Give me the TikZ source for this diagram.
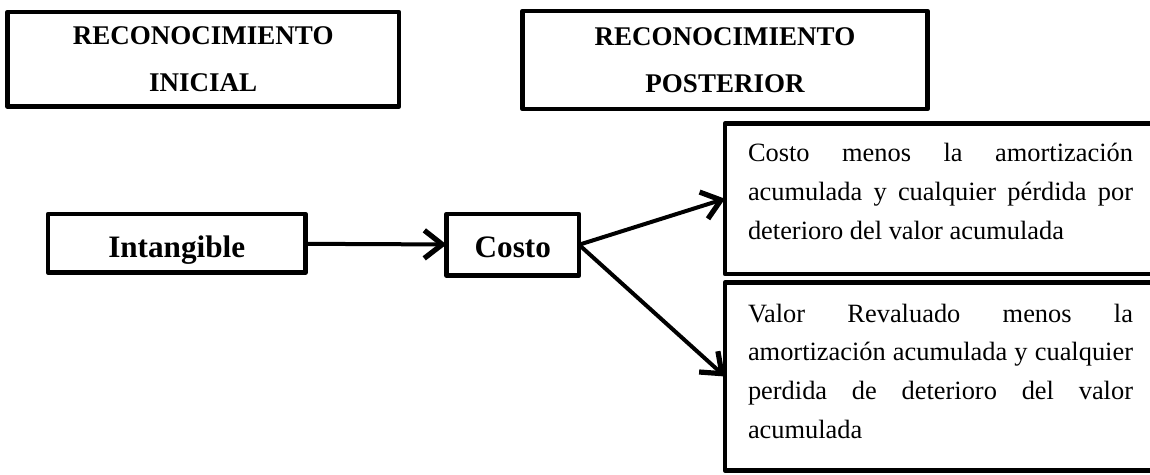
\documentclass[tikz,border=0pt]{standalone}
\usepackage{fontspec}
\setmainfont{Liberation Serif}
\usetikzlibrary{arrows.meta}

\begin{document}
\begin{tikzpicture}[x=0.5pt,y=-0.5pt,
    box/.style={draw,line width=2.2pt,line join=round,outer sep=0pt,inner sep=0pt},
    head/.style={box,align=center,font=\fontsize{13.5}{23.3}\selectfont\bfseries},
    big/.style={box,text depth=0pt,font=\fontsize{15.6}{18}\selectfont\bfseries},
    txt/.style={box,anchor=north west,text width=192.5pt,inner xsep=11.5pt,align=justify,
      font=\fontsize{13.2}{19.4}\selectfont,
      execute at begin node={\tolerance=10000\relax\hyphenpenalty=10000\relax}}]
  \useasboundingbox (0,0) rectangle (1150,475);
  \clip (0,0) rectangle (1150,475);
  \draw
    (203.25,59.25) node[head,minimum width=195.75pt,minimum height=47.25pt] (ini)
      {RECONOCIMIENTO\\INICIAL}
    (725,60) node[head,minimum width=202.5pt,minimum height=49pt] (post)
      {RECONOCIMIENTO\\POSTERIOR}
    (176.75,243.25) node[big,minimum width=128.75pt,minimum height=29.25pt,text height=14.4pt] (intang)
      {Intangible}
    (512.75,244.75) node[big,minimum width=66.25pt,minimum height=30.75pt,text height=13pt] (costo)
      {Costo}
    (725,123.5) node[txt,text height=19.25pt,text depth=56pt] (cam)
      {Costo menos la amortización\linebreak acumulada y cualquier pérdida por\linebreak
       deterioro del valor acumulada}
    (725,282.5) node[txt,text height=19.75pt,text depth=74.25pt] (rev)
      {Valor Revaluado menos la\linebreak amortización acumulada y cualquier\linebreak
       perdida de deterioro del valor\linebreak acumulada};
  \begin{scope}[line width=2pt,-{Straight Barb[length=9pt,width=14pt,line width=2.6pt]}]
    \draw (intang) to (costo);
    \draw (costo.east) to (cam.west);
    \draw (costo.east) to (rev.west);
  \end{scope}
\end{tikzpicture}
\end{document}
